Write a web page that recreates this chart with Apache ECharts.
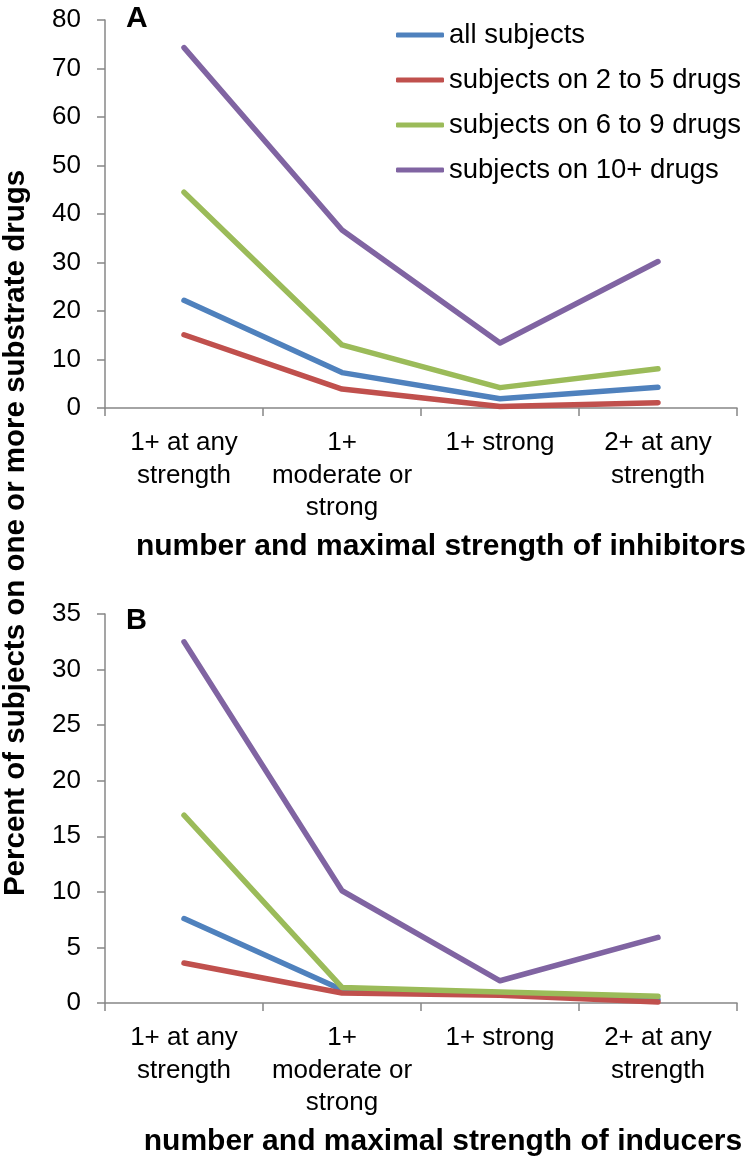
<!DOCTYPE html>
<html>
<head>
<meta charset="utf-8">
<script src="https://cdn.jsdelivr.net/npm/echarts@6/dist/echarts.min.js"></script>
<style>
html,body{margin:0;padding:0;background:#fff;}
#chart{width:750px;height:1161px;}
</style>
</head>
<body>
<div id="chart"></div>
<script>
var categories = ["1+ at any\nstrength", "1+\nmoderate or\nstrong", "1+ strong", "2+ at any\nstrength"];
var seriesNames = ["all subjects", "subjects on 2 to 5 drugs", "subjects on 6 to 9 drugs", "subjects on 10+ drugs"];
var colors = ["#4F81BD", "#C0504D", "#9BBB59", "#8064A2"];

// Panel A: inhibitors
var inhAll = [22.2, 7.3, 1.9, 4.3];
var inh2to5 = [15.1, 3.9, 0.3, 1.1];
var inh6to9 = [44.5, 13.0, 4.2, 8.1];
var inh10 = [74.3, 36.7, 13.4, 30.2];

// Panel B: inducers
var indAll = [7.6, 1.2, 0.8, 0.3];
var ind2to5 = [3.6, 0.9, 0.7, 0.1];
var ind6to9 = [16.9, 1.4, 1.0, 0.6];
var ind10 = [32.5, 10.1, 2.0, 5.9];

var yTicksA = {min: 0, max: 80, interval: 10};
var yTicksB = {min: 0, max: 35, interval: 5};

var FONT = "'Liberation Sans', Arial, sans-serif";
var axisColor = "#878787";

function xAxis(gi) {
  return {
    type: 'category', gridIndex: gi, data: categories, boundaryGap: true,
    axisLine: {show: true, lineStyle: {color: axisColor, width: 1.5}},
    axisTick: {show: true, length: 8, lineStyle: {color: axisColor, width: 1.5}},
    axisLabel: {color: '#000', fontSize: 26, fontFamily: FONT, lineHeight: 32.5, margin: 19, interval: 0}
  };
}
function yAxis(gi, t) {
  return {
    type: 'value', gridIndex: gi, min: t.min, max: t.max, interval: t.interval,
    axisLine: {show: true, lineStyle: {color: axisColor, width: 1.5}},
    axisTick: {show: true, length: 8, lineStyle: {color: axisColor, width: 1.5}},
    splitLine: {show: false},
    axisLabel: {color: '#000', fontSize: 26, fontFamily: FONT, margin: 24}
  };
}
function line(name, data, gi, idx) {
  return {
    name: name, type: 'line', xAxisIndex: gi, yAxisIndex: gi, data: data,
    symbol: 'none', smooth: false, animation: false,
    lineStyle: {width: 5.5, color: colors[idx], cap: 'round', join: 'round'},
    itemStyle: {color: colors[idx]}
  };
}

var chart = echarts.init(document.getElementById('chart'));
chart.setOption({
  backgroundColor: '#fff',
  animation: false,
  grid: [
    {left: 105, right: 13, top: 20, height: 388},
    {left: 105, right: 13, top: 614, height: 389}
  ],
  xAxis: [xAxis(0), xAxis(1)],
  yAxis: [yAxis(0, yTicksA), yAxis(1, yTicksB)],
  legend: {
    orient: 'vertical', left: 396, top: 20, itemGap: 15, padding: 0,
    itemWidth: 48, itemHeight: 5, icon: 'roundRect',
    data: seriesNames,
    textStyle: {color: '#000', fontSize: 27.5, fontFamily: FONT, lineHeight: 30}
  },
  series: [
    line(seriesNames[0], inhAll, 0, 0),
    line(seriesNames[1], inh2to5, 0, 1),
    line(seriesNames[2], inh6to9, 0, 2),
    line(seriesNames[3], inh10, 0, 3),
    line(seriesNames[0], indAll, 1, 0),
    line(seriesNames[1], ind2to5, 1, 1),
    line(seriesNames[2], ind6to9, 1, 2),
    line(seriesNames[3], ind10, 1, 3)
  ],
  graphic: [
    {type: 'text', left: 126, top: 4, style: {text: 'A', fontSize: 30, fontWeight: 'bold', fontFamily: FONT, fill: '#000'}},
    {type: 'text', left: 126, top: 606, style: {text: 'B', fontSize: 29, fontWeight: 'bold', fontFamily: FONT, fill: '#000'}},
    {type: 'text', x: 441, y: 547, style: {text: 'number and maximal strength of inhibitors', fontSize: 30, fontWeight: 'bold', fontFamily: FONT, fill: '#000', align: 'center', verticalAlign: 'middle'}},
    {type: 'text', x: 443, y: 1142, style: {text: 'number and maximal strength of inducers', fontSize: 30, fontWeight: 'bold', fontFamily: FONT, fill: '#000', align: 'center', verticalAlign: 'middle'}},
    {type: 'text', x: 16, y: 533, rotation: Math.PI / 2, style: {text: 'Percent of subjects on one or more substrate drugs', fontSize: 29.5, fontWeight: 'bold', fontFamily: FONT, fill: '#000', align: 'center', verticalAlign: 'middle'}}
  ]
});
</script>
</body>
</html>
